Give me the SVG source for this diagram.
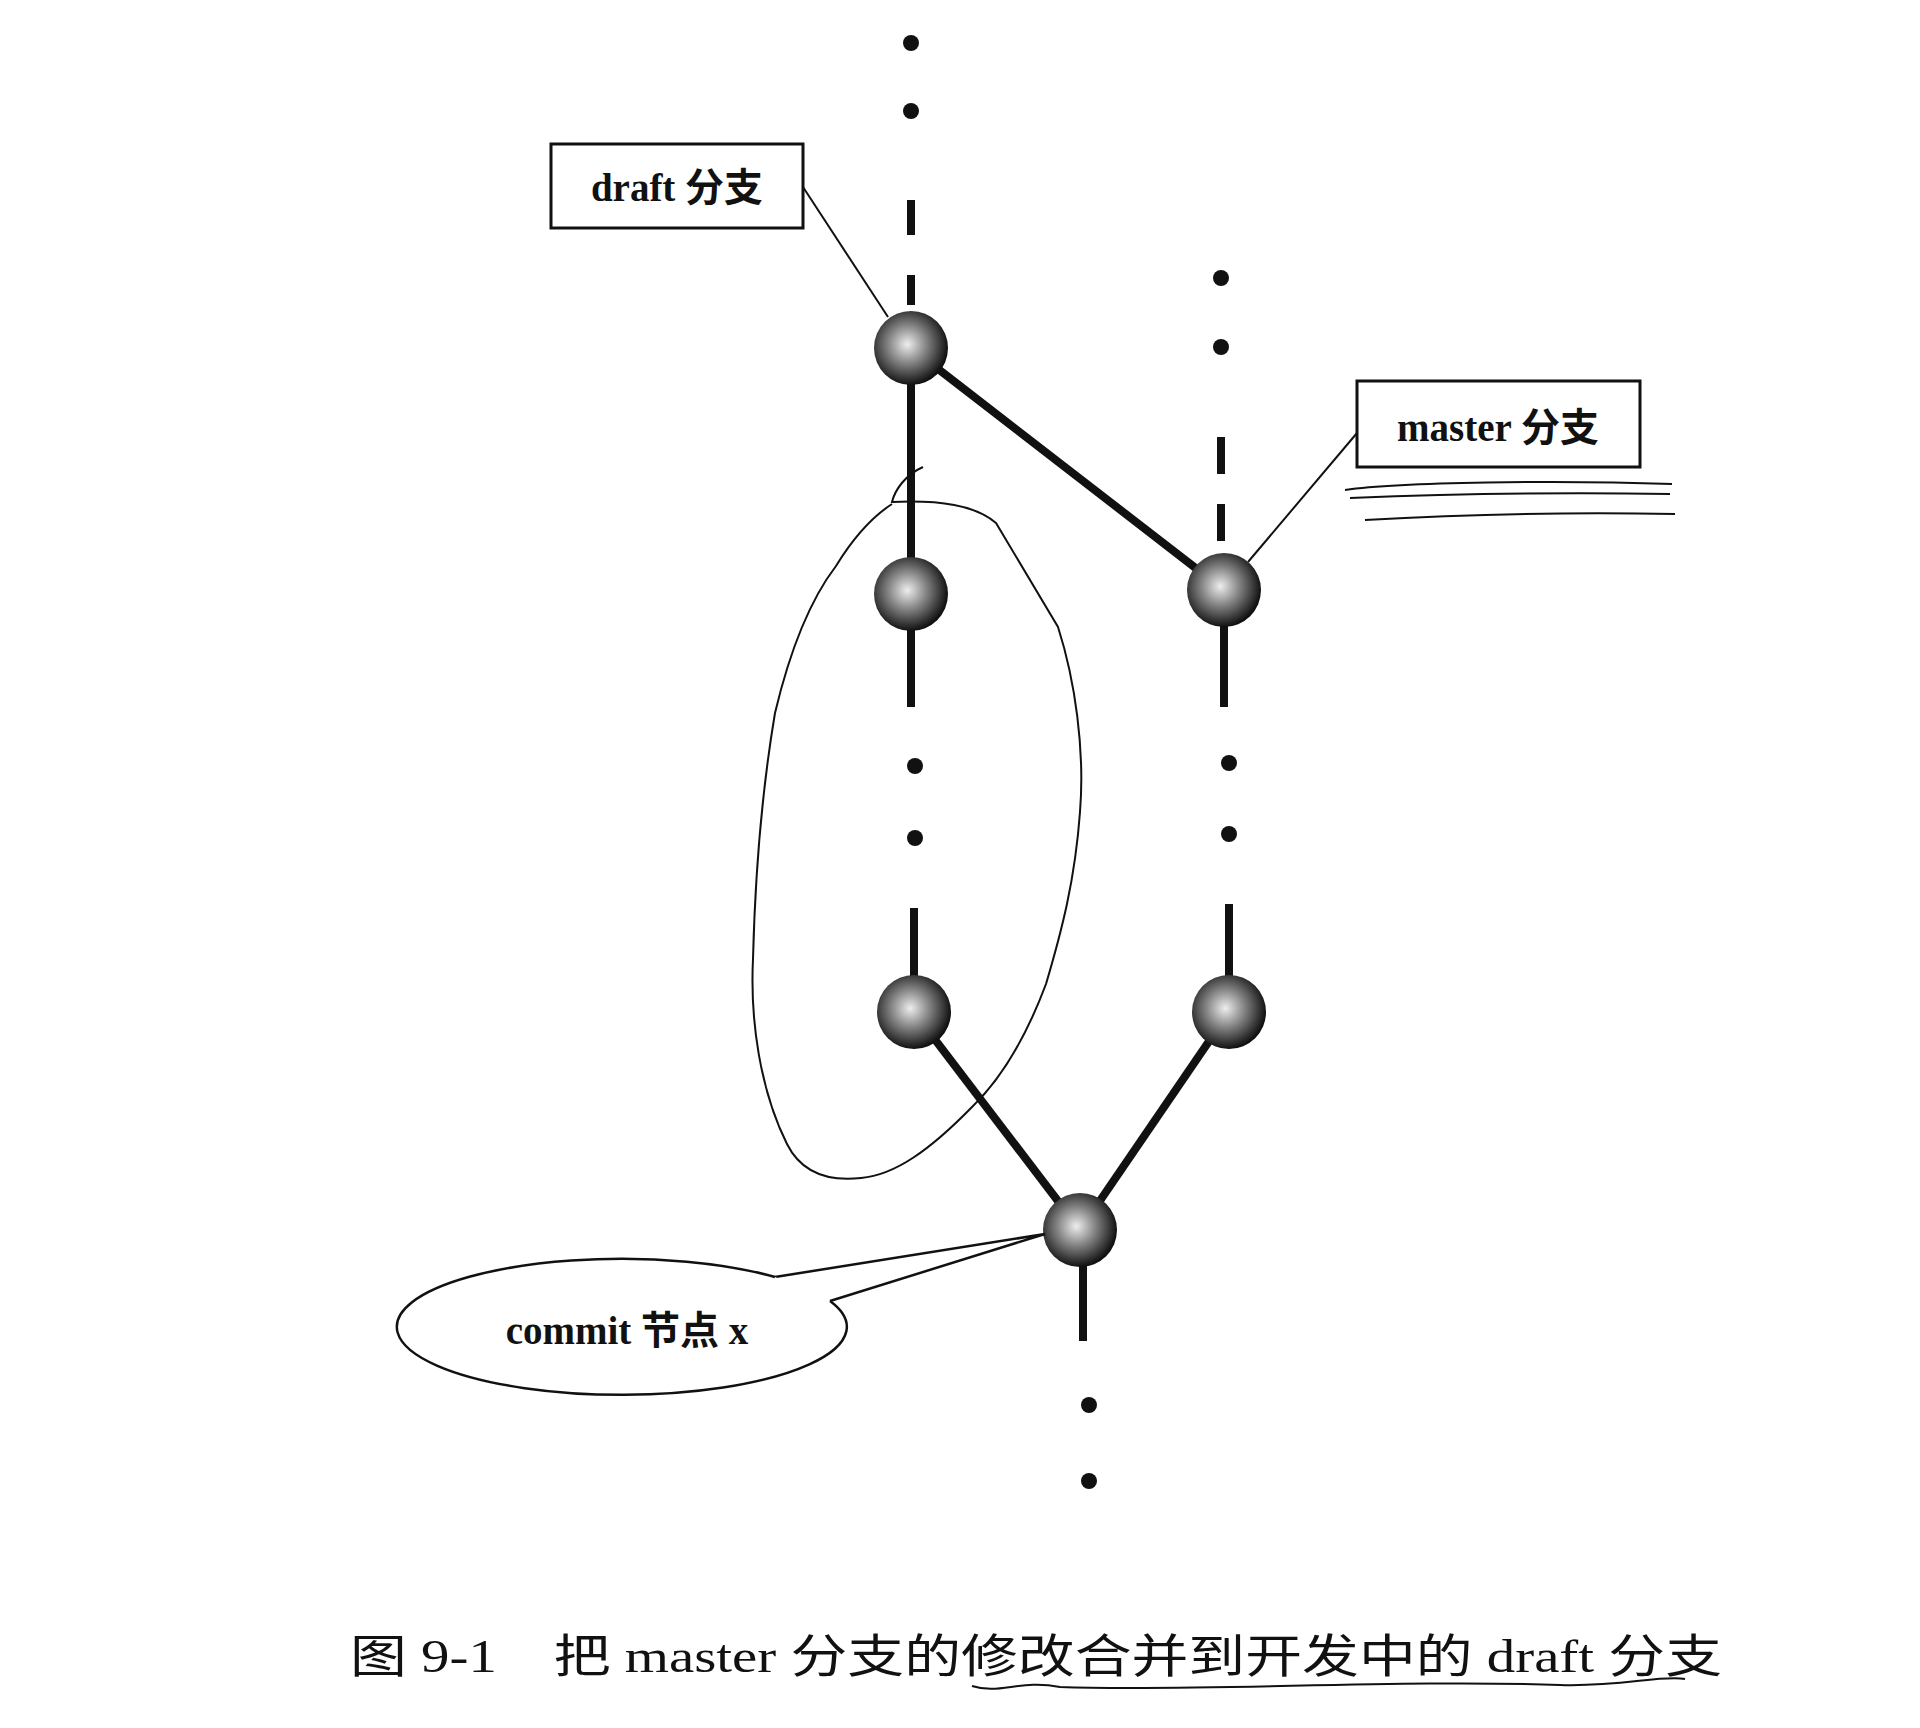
<svg xmlns="http://www.w3.org/2000/svg" width="1920" height="1728" viewBox="0 0 1920 1728">
<style>
.ln{stroke:#111;stroke-width:8;fill:none}
.th{stroke:#111;stroke-width:2;fill:none}
.dot{fill:#111}
.lbl{font-family:"Liberation Serif","Noto Sans CJK SC",serif;font-weight:bold;font-size:39px;fill:#111}
.cap{font-family:"Liberation Serif","Noto Sans CJK SC",serif;font-size:46px;fill:#111}
</style>
<defs>
<radialGradient id="g" cx="0.45" cy="0.45" r="0.55">
<stop offset="0" stop-color="#eee"/><stop offset="0.45" stop-color="#888"/><stop offset="1" stop-color="#111"/>
</radialGradient>
</defs>
<rect width="1920" height="1728" fill="#fff"/>
<g id="connectors">
<circle class="dot" cx="911" cy="43" r="8"/><circle class="dot" cx="911" cy="111" r="8"/>
<line class="ln" x1="911" y1="200" x2="911" y2="235"/><line class="ln" x1="911" y1="275" x2="911" y2="305"/>
<line class="ln" x1="911" y1="348" x2="911" y2="707"/>
<circle class="dot" cx="915" cy="766" r="8"/><circle class="dot" cx="915" cy="838" r="8"/>
<line class="ln" x1="914" y1="908" x2="914" y2="1012"/>
<circle class="dot" cx="1221" cy="278" r="8"/><circle class="dot" cx="1221" cy="347" r="8"/>
<line class="ln" x1="1221" y1="437" x2="1221" y2="474"/><line class="ln" x1="1221" y1="504" x2="1221" y2="541"/>
<line class="ln" x1="1224" y1="590" x2="1224" y2="707"/>
<circle class="dot" cx="1229" cy="763" r="8"/><circle class="dot" cx="1229" cy="834" r="8"/>
<line class="ln" x1="1229" y1="904" x2="1229" y2="1012"/>
<line class="ln" x1="911" y1="348" x2="1224" y2="590"/>
<line class="ln" x1="914" y1="1012" x2="1080" y2="1230"/>
<line class="ln" x1="1229" y1="1012" x2="1080" y2="1230"/>
<line class="ln" x1="1083" y1="1230" x2="1083" y2="1341"/>
<circle class="dot" cx="1089" cy="1405" r="8"/><circle class="dot" cx="1089" cy="1481" r="8"/>
<line class="th" x1="803" y1="187" x2="888" y2="317"/>
<line class="th" x1="1357" y1="433" x2="1248" y2="562"/>
<path class="th" d="M923,467 C905,475 895,490 892,502 C940,500 975,505 996,523 L1058,627 C1075,680 1085,750 1080,812 C1075,880 1062,930 1046,984 C1025,1040 1000,1080 972,1107 C930,1150 895,1175 861,1178 C825,1182 800,1170 787,1144 C760,1090 750,1020 753,959 C755,880 762,790 775,713 C790,650 810,600 836,566 C855,535 875,515 892,504"/>
<path class="th" d="M1345,490 C1400,482 1560,480 1672,484 M1350,498 C1450,494 1560,492 1670,494 M1365,520 C1450,515 1560,512 1675,514" stroke-width="3"/>
<path class="th" d="M972,1686 C1000,1695 1020,1679 1060,1687 C1200,1692 1400,1679 1560,1685 C1620,1687 1660,1675 1685,1679" stroke-width="3"/>
</g>
<g id="n1"><circle cx="911" cy="348" r="37" fill="url(#g)"/></g>
<g id="n2"><circle cx="911" cy="594" r="37" fill="url(#g)"/></g>
<g id="n3"><circle cx="914" cy="1012" r="37" fill="url(#g)"/></g>
<g id="n4"><circle cx="1224" cy="590" r="37" fill="url(#g)"/></g>
<g id="n5"><circle cx="1229" cy="1012" r="37" fill="url(#g)"/></g>
<g id="nx"><circle cx="1080" cy="1230" r="37" fill="url(#g)"/></g>
<g id="draft">
<rect x="551" y="144" width="252" height="84" fill="#fff" stroke="#111" stroke-width="3"/>
<text class="lbl" x="677" y="201" text-anchor="middle">draft 分支</text>
</g>
<g id="master">
<rect x="1357" y="381" width="283" height="86" fill="#fff" stroke="#111" stroke-width="3"/>
<text class="lbl" x="1498" y="441" text-anchor="middle">master 分支</text>
</g>
<g id="commit">
<path d="M775,1277 L1045,1234 L830,1301" fill="none" stroke="#111" stroke-width="2.5"/>
<path d="M775,1277 A225,68 0 1 0 830,1301" fill="#fff" stroke="#111" stroke-width="2.5"/>
<text class="lbl" x="627" y="1344" text-anchor="middle">commit 节点 x</text>
</g>
<g id="caption">
<text class="cap" x="350" y="1672" textLength="1372" lengthAdjust="spacingAndGlyphs">图 9-1　把 master 分支的修改合并到开发中的 draft 分支</text>
</g>
</svg>
